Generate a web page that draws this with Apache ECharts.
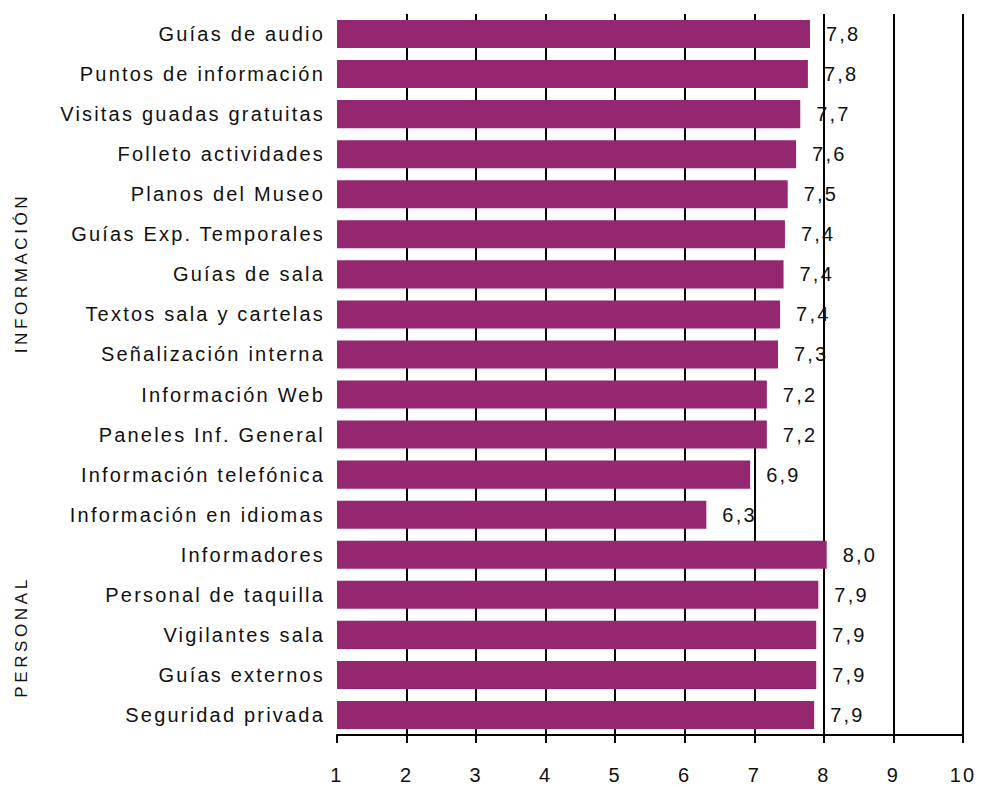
<!DOCTYPE html>
<html>
<head>
<meta charset="utf-8">
<script src="https://cdn.jsdelivr.net/npm/echarts@6/dist/echarts.min.js"></script>
<style>
html,body{margin:0;padding:0;background:#fff}
#c{width:981px;height:785px}
#c svg text{letter-spacing:2.2px}
#c svg text[style*="17px"]{letter-spacing:3.6px}
</style>
</head>
<body>
<div id="c"></div>
<script>
const categories = [
  "Guías de audio","Puntos de información","Visitas guadas gratuitas","Folleto actividades",
  "Planos del Museo","Guías Exp. Temporales","Guías de sala","Textos sala y cartelas",
  "Señalización interna","Información Web","Paneles Inf. General","Información telefónica",
  "Información en idiomas","Informadores","Personal de taquilla","Vigilantes sala",
  "Guías externos","Seguridad privada"
];
const values = [7.80,7.77,7.66,7.60,7.48,7.44,7.42,7.37,7.34,7.18,7.18,6.94,6.31,8.04,7.92,7.89,7.89,7.86];
const groupNames = ["INFORMACIÓN","PERSONAL"];
const xTicks = {min:1, max:10, interval:1};

const chart = echarts.init(document.getElementById('c'), null, {renderer:'svg'});
const font = 'Liberation Sans, Arial, sans-serif';
chart.setOption({
  animation:false,
  backgroundColor:'#fff',
  grid:{left:337, right:18, top:14, bottom:48, containLabel:false},
  xAxis:{
    type:'value', min:xTicks.min, max:xTicks.max, interval:xTicks.interval,
    axisLine:{show:true, lineStyle:{color:'#000', width:2}},
    axisTick:{show:true, length:8, lineStyle:{color:'#000', width:2}},
    axisLabel:{margin:30, fontSize:20, color:'#111', fontFamily:font},
    splitLine:{show:true, showMinLine:false, lineStyle:{color:'#000', width:2}}
  },
  yAxis:{
    type:'category', data:categories, inverse:true,
    axisLine:{show:false}, axisTick:{show:false},
    axisLabel:{margin:12, fontSize:20, color:'#111', fontFamily:font}
  },
  series:[{
    type:'bar', data:values, barCategoryGap:'30%',
    itemStyle:{color:'#952770'},
    label:{show:true, position:'right', distance:16, fontSize:20, color:'#111',
      fontFamily:font,
      formatter:p=>p.value.toFixed(1).replace('.',',')}
  }],
  graphic:[
    {type:'text', x:21, y:273, rotation:Math.PI/2,
     style:{text:groupNames[0], fontSize:17, fill:'#111', fontFamily:font, align:'center', verticalAlign:'middle', textAlign:'center', textVerticalAlign:'middle'}},
    {type:'text', x:21, y:637, rotation:Math.PI/2,
     style:{text:groupNames[1], fontSize:17, fill:'#111', fontFamily:font, align:'center', verticalAlign:'middle', textAlign:'center', textVerticalAlign:'middle'}}
  ]
});
</script>
</body>
</html>
